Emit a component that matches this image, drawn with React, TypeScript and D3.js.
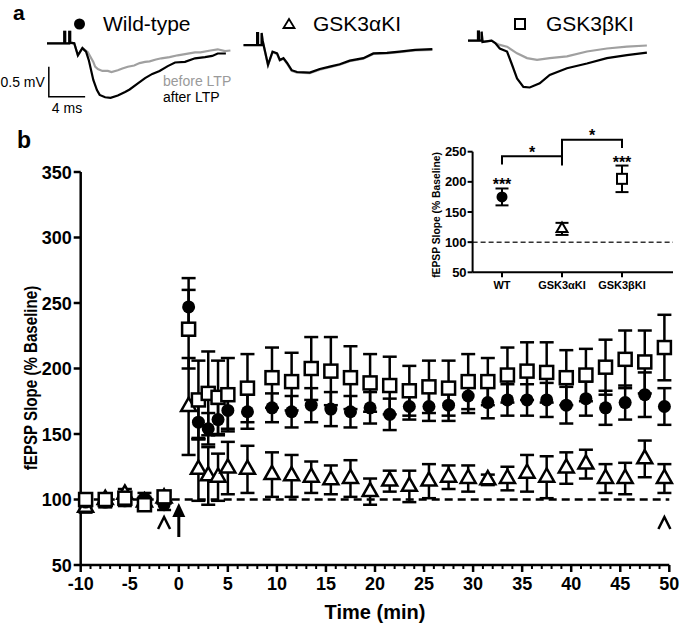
import React from "react";
import * as d3 from "d3";

// ---------- Panel b: time course ----------
const TIME = [-9.5, -7.5, -5.5, -3.5, -1.5, 1, 2, 3, 4, 5, 7, 9.5, 11.5, 13.5, 15.5, 17.5, 19.5, 21.5, 23.5, 25.5, 27.5, 29.5, 31.5, 33.5, 35.5, 37.5, 39.5, 41.5, 43.5, 45.5, 47.5, 49.5];
const WT_MEAN = [98, 98, 99, 101, 96, 247, 159, 154, 161, 168, 167, 170, 167, 172, 169, 167, 170, 165, 171, 171, 172, 179, 174, 176, 176, 176, 172, 177, 170, 174, 180, 171];
const WT_SEM = [4, 4, 4, 4, 4, 22, 13, 12, 12, 14, 13, 11, 12, 13, 13, 12, 12, 12, 10, 11, 12, 13, 12, 12, 12, 13, 14, 13, 13, 13, 17, 14];
const A_MEAN = [94, 100, 104, 98, 101, 171, 123, 118, 117, 124, 123, 119, 118, 117, 115, 116, 106, 114, 110, 114, 117, 116, 115, 116, 120, 117, 124, 127, 116, 116, 131, 116];
const A_SEM = [4, 4, 4, 4, 4, 37, 24, 22, 18, 20, 18, 17, 16, 12, 11, 14, 10, 8, 12, 13, 9, 10, 4, 9, 14, 16, 12, 11, 11, 12, 14, 11];
const B_MEAN = [100, 100, 101, 96, 102, 230, 176, 181, 178, 180, 185, 193, 190, 200, 198, 193, 189, 187, 183, 186, 185, 190, 190, 195, 198, 197, 193, 195, 201, 207, 205, 216];
const B_SEM = [4, 4, 4, 4, 4, 30, 30, 32, 28, 28, 26, 23, 22, 24, 26, 24, 22, 22, 19, 20, 21, 21, 18, 21, 22, 23, 21, 20, 21, 22, 24, 25];
const X_TICKS = [-10, -5, 0, 5, 10, 15, 20, 25, 30, 35, 40, 45, 50];
const Y_TICKS = [50, 100, 150, 200, 250, 300, 350];
const CARET_TIMES = [-1.5, 49.5];
const ARROW_TIME = 0;

// ---------- Inset ----------
const INSET_GROUPS = ["WT", "GSK3αKI", "GSK3βKI"];
const INSET_MEAN = [175, 122, 205];
const INSET_SEM = [14, 10, 22];
const INSET_Y_TICKS = [50, 100, 150, 200, 250];

// ---------- Panel a: traces (ms, mV relative to baseline) ----------
const ARTIFACT_WT: [number, number][] = [[0, 0], [1.9, 0], [1.9, 0.19], [2.0, 0.19], [2.0, 0], [2.45, 0], [2.45, 0.19], [2.55, 0.19], [2.55, 0.01], [3.0, 0], [3.4, -0.2], [3.9, -0.08]];
const WT_BEFORE: [number, number][] = [[4.5, -0.15], [5.1, -0.31], [5.3, -0.39], [5.6, -0.43], [6.1, -0.46], [6.7, -0.46], [7.1, -0.48], [7.8, -0.45], [8.3, -0.42], [8.9, -0.39], [9.6, -0.37], [10.2, -0.33], [10.8, -0.31], [11.3, -0.3], [12.0, -0.27], [12.6, -0.25], [13.5, -0.23], [14.4, -0.2], [15.2, -0.18], [16.3, -0.15], [16.9, -0.15], [18.0, -0.12], [18.8, -0.1], [19.6, -0.13], [20.2, -0.12]];
const WT_AFTER: [number, number][] = [[4.3, -0.14], [4.6, -0.28], [5.1, -0.61], [5.5, -0.78], [5.8, -0.86], [6.4, -0.9], [7.0, -0.91], [7.8, -0.87], [8.6, -0.81], [9.1, -0.77], [9.9, -0.68], [10.8, -0.58], [11.6, -0.51], [12.4, -0.46], [13.3, -0.38], [14.1, -0.32], [15.2, -0.31], [16.3, -0.25], [17.4, -0.23], [18.2, -0.21], [18.8, -0.17], [19.7, -0.17]];
const A_TRACE: [number, number][] = [[0, 0], [1.5, 0], [1.5, 0.2], [1.6, 0.2], [1.6, 0], [2.0, 0], [2.0, 0.2], [2.1, 0.08], [2.7, -0.33], [3.2, -0.11], [3.7, -0.14], [4.0, -0.25], [4.4, -0.22], [4.8, -0.3], [5.3, -0.42], [5.9, -0.45], [7.3, -0.46], [8.4, -0.4], [9.5, -0.36], [10.6, -0.32], [11.7, -0.26], [13.2, -0.22], [14.3, -0.14], [15.8, -0.13], [17.2, -0.11], [18.9, -0.08], [20.8, -0.07]];
const B_ARTIFACT: [number, number][] = [[0, 0], [1.1, 0], [1.1, 0.15], [1.2, 0.15], [1.2, 0], [1.5, 0], [1.5, 0.15], [1.6, -0.02], [2.6, 0], [3.0, -0.04]];
const B_BEFORE: [number, number][] = [[3.5, -0.07], [4.3, -0.1], [5.4, -0.21], [6.5, -0.29], [7.6, -0.32], [9.0, -0.29], [10.9, -0.26], [13.1, -0.18], [15.3, -0.13], [17.5, -0.1], [19.7, -0.08]];
const B_AFTER: [number, number][] = [[3.5, -0.13], [4.3, -0.18], [4.8, -0.38], [5.4, -0.63], [6.1, -0.77], [6.8, -0.78], [7.9, -0.71], [9.0, -0.57], [10.9, -0.46], [13.1, -0.38], [15.3, -0.29], [17.5, -0.24], [19.7, -0.2]];
const SCALE_MS = 4;
const SCALE_MV = 0.5;

const FONT = "'Liberation Sans', Arial, Helvetica, sans-serif";

function ErrBar({ x, y0, y1, cap, sw }: { x: number; y0: number; y1: number; cap: number; sw: number }) {
  return (
    <g stroke="#000" strokeWidth={sw} fill="none">
      <line x1={x} x2={x} y1={y0} y2={y1} />
      <line x1={x - cap / 2} x2={x + cap / 2} y1={y0} y2={y0} />
      <line x1={x - cap / 2} x2={x + cap / 2} y1={y1} y2={y1} />
    </g>
  );
}

function Marker({ kind, x, y, s, sw }: { kind: string; x: number; y: number; s: number; sw: number }) {
  if (kind === "circle") return <circle cx={x} cy={y} r={s / 2} fill="#000" />;
  if (kind === "square")
    return <rect x={x - s / 2} y={y - s / 2} width={s} height={s} fill="#fff" stroke="#000" strokeWidth={sw} />;
  const h = s * 0.88;
  const p = `M${x},${y - (h * 2) / 3}L${x + s / 2},${y + h / 3}L${x - s / 2},${y + h / 3}Z`;
  return <path d={p} fill="#fff" stroke="#000" strokeWidth={sw} strokeLinejoin="miter" />;
}

export default function App() {
  // main scales
  const x = d3.scaleLinear().domain([-10, 50]).range([80.7, 669.3]);
  const y = d3.scaleLinear().domain([50, 350]).range([565, 172]);
  // inset scales
  const ix = d3.scaleLinear().domain([0, 2]).range([502, 622]);
  const iy = d3.scaleLinear().domain([50, 250]).range([272.3, 151.7]);

  const series = [
    { kind: "triangle", mean: A_MEAN, sem: A_SEM },
    { kind: "circle", mean: WT_MEAN, sem: WT_SEM },
    { kind: "square", mean: B_MEAN, sem: B_SEM },
  ];

  const minorTicks = d3.range(-10, 51, 1);

  // trace panels
  const panels = [
    { x0: 47, y0: 43.3 },
    { x0: 243.5, y0: 45 },
    { x0: 468, y0: 40.7 },
  ].map((p) => ({
    xs: d3.scaleLinear().domain([0, 1]).range([p.x0, p.x0 + 9.08]),
    ys: d3.scaleLinear().domain([0, -1]).range([p.y0, p.y0 + 60]),
  }));
  const mkLine = (i: number) => d3.line<[number, number]>().x((d) => panels[i].xs(d[0])).y((d) => panels[i].ys(d[1]));
  const wtBefore = mkLine(0)([...ARTIFACT_WT, ...WT_BEFORE]) as string;
  const wtAfter = mkLine(0)([...ARTIFACT_WT, ...WT_AFTER]) as string;
  const aGray = mkLine(1)(A_TRACE.map((d) => [d[0], d[1] - 0.01] as [number, number])) as string;
  const aBlack = mkLine(1)(A_TRACE) as string;
  const bBefore = mkLine(2)([...B_ARTIFACT, ...B_BEFORE]) as string;
  const bAfter = mkLine(2)([...B_ARTIFACT, ...B_AFTER]) as string;

  const sbX0 = panels[0].xs(0.2);
  const sbX1 = panels[0].xs(0.2 + SCALE_MS);
  const sbY1 = panels[0].ys(-0.89);
  const sbY0 = panels[0].ys(-0.89 + SCALE_MV);

  return (
    <svg width={681} height={629} style={{ position: "absolute", left: 0, top: 0, background: "#fff" }} fontFamily={FONT}>
      <rect width={681} height={629} fill="#fff" />
      {/* ---------- panel a ---------- */}
      <text x={13} y={20} fontSize={21} fontWeight="bold">a</text>
      <circle cx={79.5} cy={24} r={5.5} fill="#000" />
      <text x={103} y={31} fontSize={21}>Wild-type</text>
      <path d="M289,19L294.5,28L283.5,28Z" fill="#fff" stroke="#000" strokeWidth={1.8} />
      <text x={313} y={31} fontSize={21}>GSK3αKI</text>
      <rect x={515} y={19} width={10} height={10} fill="#fff" stroke="#000" strokeWidth={2} />
      <text x={546} y={31} fontSize={21}>GSK3βKI</text>

      <path d={wtBefore} fill="none" stroke="#a0a0a0" strokeWidth={2.2} />
      <path d={wtAfter} fill="none" stroke="#000" strokeWidth={2.2} />
      <path d={aGray} fill="none" stroke="#a0a0a0" strokeWidth={2.2} />
      <path d={aBlack} fill="none" stroke="#000" strokeWidth={2.2} />
      <path d={bBefore} fill="none" stroke="#a0a0a0" strokeWidth={2.2} />
      <path d={bAfter} fill="none" stroke="#000" strokeWidth={2.2} />

      <path d={`M${sbX0},${sbY0}L${sbX0},${sbY1}L${sbX1},${sbY1}`} fill="none" stroke="#000" strokeWidth={1.5} />
      <text x={sbX0 - 4} y={(sbY0 + sbY1) / 2 + 5} fontSize={14} textAnchor="end">0.5 mV</text>
      <text x={(sbX0 + sbX1) / 2} y={sbY1 + 16} fontSize={14} textAnchor="middle">4 ms</text>
      <text x={163} y={86} fontSize={14} fill="#9a9a9a">before LTP</text>
      <text x={163} y={102} fontSize={14} fill="#000">after LTP</text>

      {/* ---------- panel b ---------- */}
      <text x={17} y={148} fontSize={23} fontWeight="bold">b</text>

      {/* dashed baseline */}
      <line x1={x(-10)} x2={x(50)} y1={y(100)} y2={y(100)} stroke="#000" strokeWidth={2.5} strokeDasharray="8,5" />

      {/* axes */}
      <g stroke="#000" strokeWidth={2.5}>
        <line x1={x(-10)} x2={x(-10)} y1={y(350)} y2={y(50)} />
        <line x1={x(-10)} x2={x(50)} y1={y(50)} y2={y(50)} />
        {Y_TICKS.map((t) => (
          <line key={"yt" + t} x1={x(-10) - 7} x2={x(-10)} y1={y(t)} y2={y(t)} />
        ))}
        {X_TICKS.map((t) => (
          <line key={"xt" + t} x1={x(t)} x2={x(t)} y1={y(50)} y2={y(50) + 7} />
        ))}
        {minorTicks.filter((t) => t % 5 !== 0).map((t) => (
          <line key={"mt" + t} x1={x(t)} x2={x(t)} y1={y(50)} y2={y(50) + 4} strokeWidth={2} />
        ))}
      </g>
      {Y_TICKS.map((t) => (
        <text key={"yl" + t} x={x(-10) - 9} y={y(t) + 6.5} fontSize={18} fontWeight="bold" textAnchor="end">{t}</text>
      ))}
      {X_TICKS.map((t) => (
        <text key={"xl" + t} x={x(t)} y={y(50) + 25} fontSize={18} fontWeight="bold" textAnchor="middle">{t}</text>
      ))}
      <text x={x(20)} y={619} fontSize={20} fontWeight="bold" textAnchor="middle">Time (min)</text>
      <text transform={`translate(37,378) rotate(-90) scale(0.84,1)`} fontSize={18} fontWeight="bold" textAnchor="middle">fEPSP Slope (% Baseline)</text>

      {/* error bars */}
      {series.map((s, si) =>
        TIME.map((t, i) => (
          <ErrBar key={`e${si}-${i}`} x={x(t)} y0={y(s.mean[i] + s.sem[i])} y1={y(s.mean[i] - s.sem[i])} cap={14} sw={2.5} />
        ))
      )}
      {/* markers */}
      {series.map((s, si) =>
        TIME.map((t, i) => <Marker key={`m${si}-${i}`} kind={s.kind} x={x(t)} y={y(s.mean[i])} s={s.kind === "triangle" ? 15 : 13} sw={2.5} />)
      )}

      {/* carets and arrow */}
      {CARET_TIMES.map((t) => (
        <path key={"c" + t} d={`M${x(t) - 6},529L${x(t)},517L${x(t) + 6},529`} fill="none" stroke="#000" strokeWidth={2.5} />
      ))}
      <g>
        <line x1={x(ARROW_TIME)} x2={x(ARROW_TIME)} y1={514} y2={537} stroke="#000" strokeWidth={3} />
        <path d={`M${x(ARROW_TIME)},503L${x(ARROW_TIME) + 6.5},517L${x(ARROW_TIME) - 6.5},517Z`} fill="#000" />
      </g>

      {/* ---------- inset ---------- */}
      <line x1={ix(-0.49)} x2={ix(2.85)} y1={iy(100)} y2={iy(100)} stroke="#333" strokeWidth={1.5} strokeDasharray="5,3" />
      <g stroke="#000" strokeWidth={2}>
        <line x1={ix(-0.49)} x2={ix(-0.49)} y1={iy(250)} y2={iy(50)} />
        <line x1={ix(-0.49)} x2={ix(2.85)} y1={iy(50)} y2={iy(50)} />
        {INSET_Y_TICKS.map((t) => (
          <line key={"iyt" + t} x1={ix(-0.49) - 5} x2={ix(-0.49)} y1={iy(t)} y2={iy(t)} />
        ))}
        {INSET_GROUPS.map((g, i) => (
          <line key={"ixt" + g} x1={ix(i)} x2={ix(i)} y1={iy(50)} y2={iy(50) + 5} />
        ))}
      </g>
      {INSET_Y_TICKS.map((t) => (
        <text key={"iyl" + t} x={ix(-0.49) - 6} y={iy(t) + 4.5} fontSize={13} fontWeight="bold" textAnchor="end">{t}</text>
      ))}
      {INSET_GROUPS.map((g, i) => (
        <text key={"ixl" + g} x={ix(i)} y={iy(50) + 17} fontSize={11} fontWeight="bold" textAnchor="middle">{g}</text>
      ))}
      <text transform={`translate(440,${iy(145)}) rotate(-90)`} fontSize={10.3} fontWeight="bold" textAnchor="middle">fEPSP Slope (% Baseline)</text>
      {INSET_GROUPS.map((g, i) => (
        <ErrBar key={"ie" + g} x={ix(i)} y0={iy(INSET_MEAN[i] + INSET_SEM[i])} y1={iy(INSET_MEAN[i] - INSET_SEM[i])} cap={13} sw={2} />
      ))}
      <Marker kind="circle" x={ix(0)} y={iy(INSET_MEAN[0])} s={11} sw={2} />
      <Marker kind="triangle" x={ix(1)} y={iy(INSET_MEAN[1])} s={11} sw={2} />
      <Marker kind="square" x={ix(2)} y={iy(INSET_MEAN[2])} s={10} sw={2} />
      <text x={ix(0)} y={190} fontSize={16} fontWeight="bold" textAnchor="middle">***</text>
      <text x={ix(2)} y={168} fontSize={16} fontWeight="bold" textAnchor="middle">***</text>
      <g stroke="#000" strokeWidth={2} fill="none">
        <path d={`M${ix(0)},164.6L${ix(0)},156.3L${ix(1)},156.3`} />
        <path d={`M${ix(1)},165.6L${ix(1)},139.7L${ix(2)},139.7L${ix(2)},148`} />
      </g>
      <text x={(ix(0) + ix(1)) / 2} y={158} fontSize={16} fontWeight="bold" textAnchor="middle">*</text>
      <text x={(ix(1) + ix(2)) / 2} y={141} fontSize={16} fontWeight="bold" textAnchor="middle">*</text>
    </svg>
  );
}
